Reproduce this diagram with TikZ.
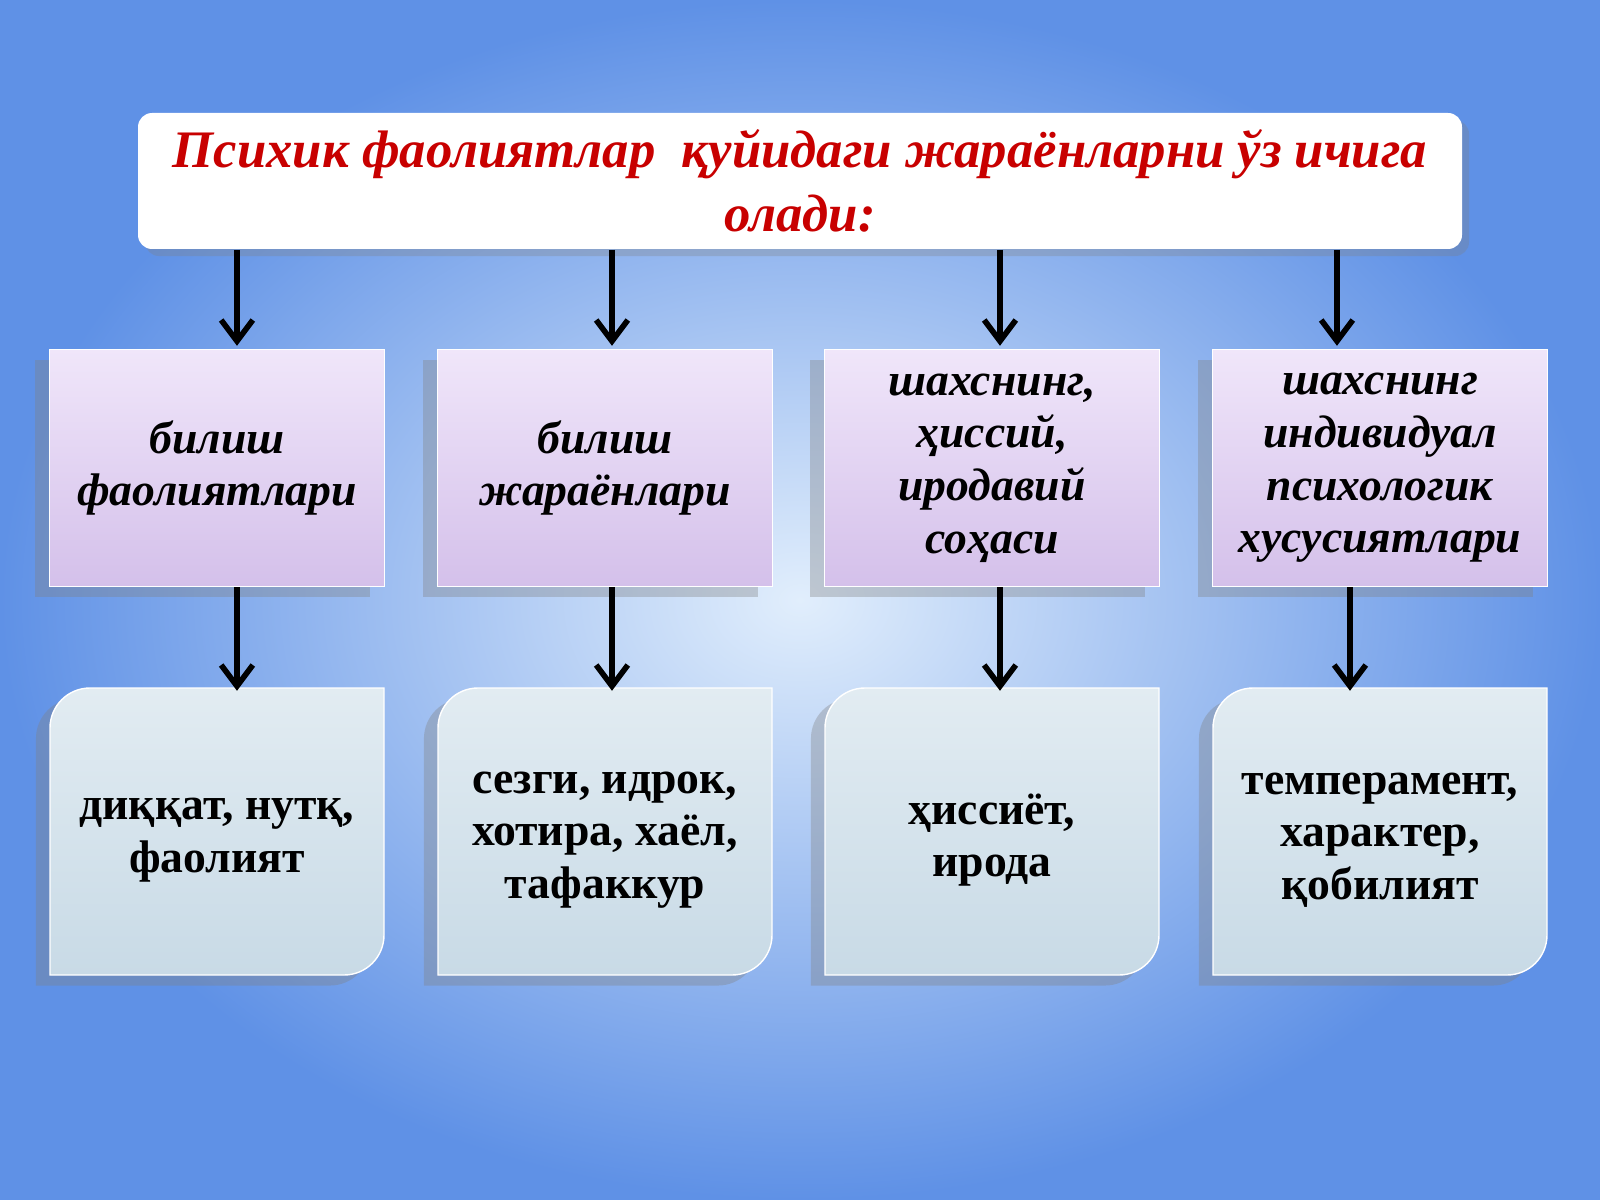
\documentclass[tikz,border=0pt]{standalone}
\usepackage{fontspec}
\setmainfont{Liberation Serif}
\usetikzlibrary{positioning,shadows,arrows.meta}
\definecolor{bgout}{RGB}{95,145,230}
\definecolor{bgin}{RGB}{225,238,252}
\definecolor{titlered}{RGB}{200,0,0}
\definecolor{lavtop}{RGB}{240,230,250}
\definecolor{lavbot}{RGB}{212,192,234}
\definecolor{greytop}{RGB}{226,236,242}
\definecolor{greybot}{RGB}{200,218,230}
\tikzset{
  titlebox/.style={fill=white, rounded corners=1.4mm, minimum width=132.4mm, minimum height=13.6mm,
    drop shadow={shadow xshift=2pt, shadow yshift=-2pt, opacity=.3},
    align=center, text=titlered, font=\fontsize{15}{18}\selectfont\bfseries\itshape},
  midbox/.style={top color=lavtop, bottom color=lavbot, draw=white, minimum width=33.5mm, minimum height=23.7mm,
    drop shadow={shadow xshift=-4pt, shadow yshift=-3pt, opacity=.35},
    align=center, font=\fontsize{13}{15}\selectfont\bfseries\itshape},
  lowtext/.style={minimum width=33.5mm, minimum height=28.7mm, align=center,
    font=\fontsize{13}{15}\selectfont\bfseries},
  lowshape/.style={top color=greytop, bottom color=greybot, draw=white,
    drop shadow={shadow xshift=-4pt, shadow yshift=-3pt, opacity=.35}},
  down/.style={-{Straight Barb[length=6pt,width=9pt]}, line width=1.6pt}
}
\begin{document}
\begin{tikzpicture}[x=0.1mm,y=0.1mm]
\useasboundingbox (0,0) rectangle (1600,-1200);
\shade[outer color=bgout, inner color=bgin] (0,0) rectangle (1600,-1200);

\node[titlebox] (title) at (800,-181) {Психик фаолиятлар\ \ қуйидаги жараёнларни ўз ичига\\олади:};

\node[midbox] (m1) at (217,-468) {билиш\\фаолиятлари};
\node[midbox] (m2) at (605,-468) {билиш\\жараёнлари};
\node[midbox] (m3) at (992,-468) {шахснинг,\\ҳиссий,\\иродавий\\соҳаси};
\node[midbox] (m4) at (1380,-468) {шахснинг\\индивидуал\\психологик\\хусусиятлари};

% bottom boxes, two round corners each
\foreach \cx in {217,605,992,1380}
  \shade[lowshape] (\cx-167,-800) [rounded corners=4mm] -- (\cx-167,-688) -- (\cx,-688) [sharp corners]
    -- (\cx+167,-688) -- (\cx+167,-800) [rounded corners=4mm] -- (\cx+167,-975) -- (\cx,-975)
    [sharp corners] -- (\cx-167,-975) -- cycle;

\node[lowtext] (b1) at (217,-840) {диққат, нутқ,\\фаолият};
\node[lowtext] (b2) at (605,-840) {сезги, идрок,\\хотира, хаёл,\\тафаккур};
\node[lowtext] (b3) at (992,-840) {ҳиссиёт,\\ирода};
\node[lowtext] (b4) at (1380,-840) {темперамент,\\характер,\\қобилият};

% arrows
\coordinate (a1) at (237,-250);
\coordinate (a2) at (612,-250);
\coordinate (a3) at (1000,-250);
\coordinate (a4) at (1337,-250);
\coordinate (c1) at (237,-587);
\coordinate (c2) at (612,-587);
\coordinate (c3) at (1000,-587);
\coordinate (c4) at (1350,-587);
\draw[down] (a1) -- ([yshift=0.3mm]a1 |- m1.north);
\draw[down] (a2) -- ([yshift=0.3mm]a2 |- m2.north);
\draw[down] (a3) -- ([yshift=0.3mm]a3 |- m3.north);
\draw[down] (a4) -- ([yshift=0.3mm]a4 |- m4.north);
\draw[down] (c1) -- ([yshift=0.5mm]c1 |- b1.north);
\draw[down] (c2) -- ([yshift=0.5mm]c2 |- b2.north);
\draw[down] (c3) -- ([yshift=0.5mm]c3 |- b3.north);
\draw[down] (c4) -- ([yshift=0.5mm]c4 |- b4.north);
\end{tikzpicture}
\end{document}
